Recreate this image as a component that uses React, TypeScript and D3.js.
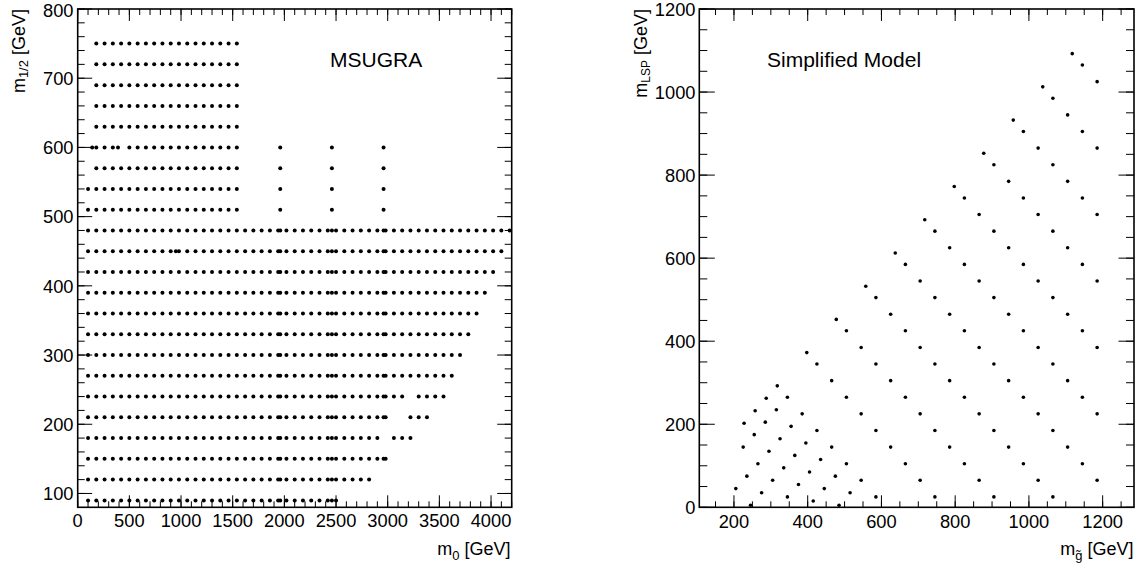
import React from 'react';
import * as d3 from 'd3';

const W = 1147;
const H = 568;
const FONT = '"Liberation Sans", Arial, Helvetica, sans-serif';

// ---------------- MSUGRA scan (left panel) ----------------
// m0 grid columns (GeV)
const m0Columns = [
  100, 180, 260, 340, 420, 500, 580, 660, 740, 820, 900, 980, 1060, 1140, 1220, 1300, 1380, 1460, 1540,
  1620, 1700, 1780, 1860, 1940, 2020, 2100, 2180, 2260, 2340, 2420, 2500, 2580, 2660, 2740, 2820, 2900,
  2980, 3060, 3140, 3220, 3300, 3380, 3460, 3540, 3620, 3700, 3780, 3860, 3940, 4020, 4100, 4180,
];
// m1/2 rows (GeV)
const m12Rows = [90, 120, 150, 180, 210, 240, 270, 300, 330, 360, 390, 420, 450, 480, 510, 540, 570, 600, 630, 660, 690, 720, 750];
// m0 ranges covered by each row
const rowRanges: number[][][] = [
  [[100, 2500]],
  [[100, 2820]],
  [[100, 2980]],
  [[100, 2900], [3060, 3220]],
  [[100, 2980], [3220, 3380]],
  [[100, 3140], [3300, 3540]],
  [[100, 3620]],
  [[100, 3700]],
  [[100, 3780]],
  [[100, 3860]],
  [[100, 3940]],
  [[100, 4020]],
  [[100, 4100]],
  [[100, 4180]],
  [[100, 1540]],
  [[100, 1540]],
  [[180, 1540]],
  [[180, 340], [500, 1540]],
  [[180, 1540]],
  [[180, 1540]],
  [[180, 1540]],
  [[180, 1540]],
  [[180, 1540]],
];
// additional off-grid m0 points in each row
const rowExtras: number[][] = [
  [1960, 2460],
  [1960, 2460],
  [1960, 2460, 2960],
  [1960, 2460],
  [1960, 2460, 2960],
  [1960, 2460, 2960],
  [1960, 2460, 2960],
  [1960, 2460, 2960],
  [1960, 2460, 2960],
  [1960, 2460, 2960],
  [1960, 2460, 2960],
  [1960, 2460, 2960],
  [950, 1960, 2460, 2960],
  [1960, 2460, 2960],
  [1960, 2460, 2960],
  [1960, 2460, 2960],
  [1960, 2460, 2960],
  [140, 390, 1960, 2460, 2960],
  [],
  [],
  [],
  [],
  [],
];

const msugraXTicks = [0, 500, 1000, 1500, 2000, 2500, 3000, 3500, 4000];
const msugraYTicks = [100, 200, 300, 400, 500, 600, 700, 800];

// ---------------- Simplified model (right panel) ----------------
// [m_gluino, m_LSP] (GeV)
const smsPoints: [number, number][] = [
  [205, 45], [245, 5],
  [235, 75], [275, 35],
  [225, 145], [265, 105], [305, 65], [345, 25],
  [227.5, 202.5], [255, 175], [295, 135], [335, 95], [375, 55], [415, 15],
  [257.5, 232.5], [285, 205], [325, 165], [365, 125], [405, 85], [445, 45], [485, 5],
  [287.5, 262.5], [315, 235], [355, 195], [395, 155], [435, 115], [475, 75], [515, 35],
  [317.5, 292.5], [345, 265], [385, 225], [425, 185], [465, 145], [505, 105], [545, 65], [585, 25],
  [397.5, 372.5], [425, 345], [465, 305], [505, 265], [545, 225], [585, 185], [625, 145], [665, 105], [705, 65], [745, 25],
  [477.5, 452.5], [505, 425], [545, 385], [585, 345], [625, 305], [665, 265], [705, 225], [745, 185], [785, 145], [825, 105], [865, 65], [905, 25],
  [557.5, 532.5], [585, 505], [625, 465], [665, 425], [705, 385], [745, 345], [785, 305], [825, 265], [865, 225], [905, 185], [945, 145], [985, 105], [1025, 65], [1065, 25],
  [637.5, 612.5], [665, 585], [705, 545], [745, 505], [785, 465], [825, 425], [865, 385], [905, 345], [945, 305], [985, 265], [1025, 225], [1065, 185], [1105, 145], [1145, 105], [1185, 65],
  [717.5, 692.5], [745, 665], [785, 625], [825, 585], [865, 545], [905, 505], [945, 465], [985, 425], [1025, 385], [1065, 345], [1105, 305], [1145, 265], [1185, 225],
  [797.5, 772.5], [825, 745], [865, 705], [905, 665], [945, 625], [985, 585], [1025, 545], [1065, 505], [1105, 465], [1145, 425], [1185, 385],
  [877.5, 852.5], [905, 825], [945, 785], [985, 745], [1025, 705], [1065, 665], [1105, 625], [1145, 585], [1185, 545],
  [957.5, 932.5], [985, 905], [1025, 865], [1065, 825], [1105, 785], [1145, 745], [1185, 705],
  [1037.5, 1012.5], [1065, 985], [1105, 945], [1145, 905], [1185, 865],
  [1117.5, 1092.5], [1145, 1065], [1185, 1025],
];

const smsXTicks = [200, 400, 600, 800, 1000, 1200];
const smsYTicks = [0, 200, 400, 600, 800, 1000, 1200];

// build MSUGRA points from the grid description
const msugraPoints: [number, number][] = [];
m12Rows.forEach((m12, i) => {
  m0Columns.forEach((m0) => {
    if (rowRanges[i].some(([a, b]) => m0 >= a && m0 <= b)) msugraPoints.push([m0, m12]);
  });
  rowExtras[i].forEach((m0) => msugraPoints.push([m0, m12]));
});

type FrameProps = {
  x: d3.ScaleLinear<number, number>;
  y: d3.ScaleLinear<number, number>;
  xMajor: number[];
  xMinor: number[];
  yMajor: number[];
  yMinor: number[];
  xMaj: number;
  xMin: number;
  yMaj: number;
  yMin: number;
};

function Frame({ x, y, xMajor, xMinor, yMajor, yMinor, xMaj, xMin, yMaj, yMin }: FrameProps) {
  const [x0, x1] = x.range();
  const [y0, y1] = y.range(); // y0 bottom, y1 top
  const lines: React.ReactNode[] = [];
  const add = (k: string, a: number, b: number, c: number, d: number) =>
    lines.push(<line key={k} x1={a} y1={b} x2={c} y2={d} stroke="#000" strokeWidth={1} />);
  xMinor.forEach((v, i) => {
    const px = x(v);
    add('xb' + i, px, y0, px, y0 - xMin);
    add('xt' + i, px, y1, px, y1 + xMin);
  });
  xMajor.forEach((v, i) => {
    const px = x(v);
    add('xB' + i, px, y0, px, y0 - xMaj);
    add('xT' + i, px, y1, px, y1 + xMaj);
  });
  yMinor.forEach((v, i) => {
    const py = y(v);
    add('yl' + i, x0, py, x0 + yMin, py);
    add('yr' + i, x1, py, x1 - yMin, py);
  });
  yMajor.forEach((v, i) => {
    const py = y(v);
    add('yL' + i, x0, py, x0 + yMaj, py);
    add('yR' + i, x1, py, x1 - yMaj, py);
  });
  return (
    <g>
      {lines}
      <rect x={x0} y={y1} width={x1 - x0} height={y0 - y1} fill="none" stroke="#000" strokeWidth={1.6} />
    </g>
  );
}

export default function App() {
  // left panel scales
  const xL = d3.scaleLinear().domain([0, 4200]).range([77.7, 511.7]);
  const yL = d3.scaleLinear().domain([80, 800]).range([507.3, 9]);
  // right panel scales
  const xR = d3.scaleLinear().domain([106, 1285]).range([699.3, 1134]);
  const yR = d3.scaleLinear().domain([0, 1200]).range([507.3, 9]);

  const tickFont = 18.3;
  const titleFont = 18;

  return (
    <svg
      width={W}
      height={H}
      viewBox={`0 0 ${W} ${H}`}
      style={{ position: 'absolute', left: 0, top: 0, background: '#fff' }}
      fontFamily={FONT}
    >
      <rect x={0} y={0} width={W} height={H} fill="#fff" />

      {/* ---------- Left panel ---------- */}
      <g>
        {msugraPoints.map(([m0, m12], i) => (
          <circle key={'m' + i} cx={xL(m0)} cy={yL(m12)} r={2.0} fill="#000" />
        ))}
        <Frame
          x={xL}
          y={yL}
          xMajor={msugraXTicks}
          xMinor={d3.range(0, 4201, 100)}
          yMajor={msugraYTicks}
          yMinor={d3.range(100, 801, 20)}
          xMaj={12}
          xMin={6}
          yMaj={14.5}
          yMin={7}
        />
        {msugraXTicks.map((v) => (
          <text key={'lx' + v} x={xL(v)} y={527} fontSize={tickFont} textAnchor="middle" fill="#000">
            {v}
          </text>
        ))}
        {msugraYTicks.map((v) => (
          <text key={'ly' + v} x={73.5} y={yL(v) + 6.8 + (v === 800 ? 1.5 : 0)} fontSize={tickFont} textAnchor="end" fill="#000">
            {v}
          </text>
        ))}
        <text x={510.5} y={555} fontSize={titleFont} textAnchor="end" fill="#000">
          m<tspan fontSize={13} dy={4.5}>0</tspan>
          <tspan dy={-4.5}> [GeV]</tspan>
        </text>
        <text transform="translate(24.5,9) rotate(-90)" fontSize={titleFont} textAnchor="end" fill="#000">
          m<tspan fontSize={13} dy={3.5}>1/2</tspan>
          <tspan dy={-3.5}> [GeV]</tspan>
        </text>
        <text x={330} y={67} fontSize={21} fill="#000">
          MSUGRA
        </text>
      </g>

      {/* ---------- Right panel ---------- */}
      <g>
        {smsPoints.map(([mg, ml], i) => (
          <circle key={'s' + i} cx={xR(mg)} cy={yR(ml)} r={1.8} fill="#000" />
        ))}
        <Frame
          x={xR}
          y={yR}
          xMajor={smsXTicks}
          xMinor={d3.range(150, 1251, 50)}
          yMajor={smsYTicks}
          yMinor={d3.range(0, 1201, 50)}
          xMaj={12}
          xMin={6}
          yMaj={15.5}
          yMin={8}
        />
        {smsXTicks.map((v) => (
          <text key={'rx' + v} x={xR(v)} y={527.5} fontSize={tickFont} textAnchor="middle" fill="#000">
            {v}
          </text>
        ))}
        {smsYTicks.map((v) => (
          <text key={'ry' + v} x={695.5} y={yR(v) + 6.8} fontSize={tickFont} textAnchor="end" fill="#000">
            {v}
          </text>
        ))}
        <text x={1133.5} y={555} fontSize={titleFont} textAnchor="end" fill="#000">
          m<tspan fontSize={13} dy={4.5}>{'g\u0303'}</tspan>
          <tspan dy={-4.5}> [GeV]</tspan>
        </text>
        <text transform="translate(646.5,9) rotate(-90)" fontSize={titleFont} textAnchor="end" fill="#000">
          m<tspan fontSize={12} dy={3.5}>LSP</tspan>
          <tspan dy={-3.5}> [GeV]</tspan>
        </text>
        <text x={767} y={67} fontSize={21} fill="#000">
          Simplified Model
        </text>
      </g>
    </svg>
  );
}
